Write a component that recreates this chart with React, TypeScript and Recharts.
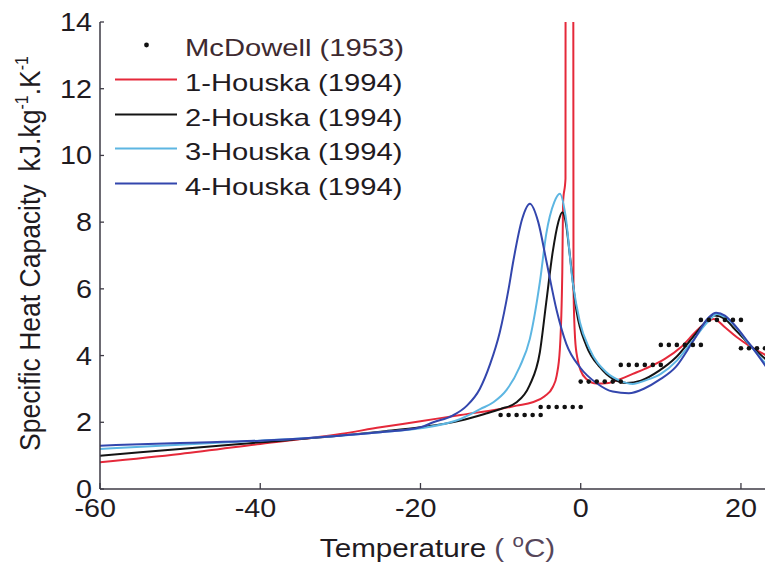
import React from "react";
import {
  ComposedChart,
  Line,
  Scatter,
  XAxis,
  YAxis,
  Legend,
} from "recharts";

// ---------- data ----------
const xTicks = [-60, -40, -20, 0, 20];
const yTicks = [0, 2, 4, 6, 8, 10, 12, 14];

const seriesNames = [
  "McDowell (1953)",
  "1-Houska (1994)",
  "2-Houska (1994)",
  "3-Houska (1994)",
  "4-Houska (1994)",
];
const seriesColors = ["#111111", "#e5293a", "#141414", "#5db6e2", "#3346ad"];

const mcDowellX = [
  -10, -9, -8, -7, -6, -5,
  -5, -4, -3, -2, -1, 0,
  0, 1, 2, 3, 4, 5,
  5, 6, 7, 8, 9, 10,
  10, 11, 12, 13, 14, 15,
  15, 16, 17, 18, 19, 20,
  20, 21, 22, 23,
];
const mcDowellY = [
  2.22, 2.22, 2.22, 2.22, 2.22, 2.22,
  2.46, 2.46, 2.46, 2.46, 2.46, 2.46,
  3.22, 3.22, 3.22, 3.22, 3.22, 3.22,
  3.72, 3.72, 3.72, 3.72, 3.72, 3.72,
  4.32, 4.32, 4.32, 4.32, 4.32, 4.32,
  5.07, 5.07, 5.07, 5.07, 5.07, 5.07,
  4.22, 4.22, 4.22, 4.22,
];

const houska1X = [-60, -50, -40, -30, -25, -20, -15, -10, -8, -6, -4.5, -3.5, -3, -2.6, -2.3, -2.2, -1.9, -1.85, -1.0, -0.9, -0.7, -0.4, 0, 0.7, 2, 3.5, 5, 6.5, 8, 10.5, 12.5, 14.5, 16, 16.6, 18, 19.5, 21, 24];
const houska1Y = [0.8, 1.05, 1.35, 1.65, 1.85, 2.03, 2.22, 2.4, 2.5, 2.6, 2.78, 3.05, 3.4, 4.2, 6.5, 8.6, 9.3, 40, 40, 6.0, 4.5, 3.9, 3.55, 3.3, 3.16, 3.18, 3.3, 3.45, 3.6, 3.9, 4.25, 4.75, 5.05, 5.1, 4.85, 4.55, 4.3, 3.9];

const houska2X = [-60, -50, -40, -30, -25, -20, -15, -12, -10, -8, -6.4, -5.1, -4.3, -3.5, -2.8, -2.3, -1.8, -1.4, -0.5, 0.7, 2.4, 4, 5.7, 7.5, 9.8, 11.9, 14, 16, 16.7, 18, 19, 21, 24];
const houska2Y = [1.0, 1.2, 1.4, 1.6, 1.72, 1.85, 2.05, 2.25, 2.4, 2.6, 3.1, 4.1, 5.6, 7.1, 8.0, 8.3, 7.9, 7.1, 5.3, 4.3, 3.65, 3.3, 3.18, 3.25, 3.55, 3.95, 4.55, 5.1, 5.2, 5.1, 4.85, 4.35, 3.7];

const houska3X = [-60, -50, -40, -30, -25, -20, -15, -12.5, -10.9, -9.25, -7.6, -6.35, -5.1, -4.3, -3.3, -2.6, -1.9, -1, -0.1, 1.1, 3.2, 4.9, 6.5, 8, 10, 12, 14, 16, 17, 18, 19, 21, 24];
const houska3Y = [1.2, 1.33, 1.45, 1.6, 1.7, 1.82, 2.1, 2.4, 2.6, 2.97, 3.67, 4.5, 6.2, 7.65, 8.6, 8.85, 8.2, 6.2, 5.0, 4.2, 3.5, 3.25, 3.15, 3.25, 3.45, 3.85, 4.45, 5.05, 5.25, 5.15, 4.95, 4.35, 3.5];

const houska4X = [-60, -50, -40, -30, -25, -20, -18.4, -16, -14.2, -12.6, -11.3, -10.1, -9, -8.4, -7.3, -6.35, -5.3, -4.3, -3, -1.8, -0.1, 2, 4, 6, 8, 9.8, 11.9, 14, 16, 16.9, 18, 19, 21, 24];
const houska4Y = [1.3, 1.38, 1.45, 1.6, 1.7, 1.85, 2.0, 2.2, 2.5, 3.0, 3.75, 4.7, 6.0, 6.85, 8.1, 8.55, 8.0, 6.85, 5.35, 4.35, 3.65, 3.17, 2.92, 2.87, 3.02, 3.27, 3.67, 4.42, 5.15, 5.28, 5.2, 4.97, 4.37, 3.37];

const toPoints = (xs: number[], ys: number[]) => xs.map((x, i) => ({ x, y: ys[i] }));

const mcDowell = toPoints(mcDowellX, mcDowellY);
const curves = [
  toPoints(houska1X, houska1Y),
  toPoints(houska2X, houska2Y),
  toPoints(houska3X, houska3Y),
  toPoints(houska4X, houska4Y),
];

// ---------- styling ----------
const FONT = "'Liberation Sans', Arial, Helvetica, sans-serif";
const TEXT = "#1f1b1f";
const AXIS = "#3d3a44";
const STRETCH = 1.15;
const TICK_FS = 25;

const XTick = (props: any) => {
  const { x, y, payload } = props;
  const v: number = payload.value;
  const digits = String(Math.abs(v));
  const half = (digits.length * 0.556 * TICK_FS) / 2;
  return (
    <g>
      <line x1={x} x2={x} y1={y} y2={y - 6} stroke={AXIS} strokeWidth={1.3} />
      <g transform={`translate(${x},${y + 28}) scale(${STRETCH},1)`}>
        <text x={0} y={0} textAnchor="middle" fontFamily={FONT} fontSize={TICK_FS} fill={TEXT}>
          {digits}
        </text>
        {v < 0 && (
          <text x={-half} y={0} textAnchor="end" fontFamily={FONT} fontSize={TICK_FS} fill={TEXT}>
            -
          </text>
        )}
      </g>
    </g>
  );
};

const TopTick = (props: any) => {
  const { x, y } = props;
  return <line x1={x} x2={x} y1={y} y2={y + 5} stroke={AXIS} strokeWidth={1.3} />;
};

const YTick = (props: any) => {
  const { x, y, payload } = props;
  return (
    <g>
      <line x1={x} x2={x + 4} y1={y} y2={y} stroke={AXIS} strokeWidth={1.3} />
      <g transform={`translate(${x - 8},${y + 9}) scale(${STRETCH},1)`}>
        <text x={0} y={0} textAnchor="end" fontFamily={FONT} fontSize={TICK_FS} fill={TEXT}>
          {payload.value}
        </text>
      </g>
    </g>
  );
};

const XTitle = (props: any) => {
  const vb = props.viewBox;
  const cx = vb.x + vb.width / 2 + 1;
  const y = vb.y + 68;
  return (
    <g transform={`translate(${cx},${y}) scale(1.14,1)`}>
      <text x={0} y={0} textAnchor="middle" fontFamily={FONT} fontSize={26} fill={TEXT}>
        Temperature
        <tspan fill="#56465a"> ( </tspan>
        <tspan fill="#56465a" dy={-10} fontSize={18}>o</tspan>
        <tspan fill="#56465a" dy={10}>C)</tspan>
      </text>
    </g>
  );
};

const YTitle = (props: any) => {
  const vb = props.viewBox;
  const bx = 32;
  const cy = vb.y + vb.height / 2 - 2;
  return (
    <g transform={`translate(${bx},${cy}) scale(1.12,1) rotate(-90)`}>
      <text x={0} y={0} textAnchor="middle" fontFamily={FONT} fontSize={26.5} fill={TEXT}>
        Specific Heat Capacity
        <tspan dx={13}>kJ.kg</tspan>
        <tspan dy={-11} fontSize={16}>-1</tspan>
        <tspan dy={11}>.K</tspan>
        <tspan dy={-11} fontSize={16}>-1</tspan>
      </text>
    </g>
  );
};

const LegendBox = () => {
  const rowY = [37, 71.5, 106.5, 140.5, 175.5];
  return (
    <svg width={440} height={200} style={{ display: "block" }}>
      {seriesNames.map((name, i) => (
        <g key={name}>
          {i === 0 ? (
            <circle cx={138.5} cy={rowY[i]} r={2.4} fill={seriesColors[0]} />
          ) : (
            <line x1={107} x2={169} y1={rowY[i]} y2={rowY[i]} stroke={seriesColors[i]} strokeWidth={2.2} />
          )}
          <g transform={`translate(177,${rowY[i] + 11}) scale(1.27,1)`}>
            <text x={0} y={0} fontFamily={FONT} fontSize={23} fill={i === 0 ? "#3e2a30" : TEXT}>
              {name}
            </text>
          </g>
        </g>
      ))}
    </svg>
  );
};

const Dot = (props: any) => <circle cx={props.cx} cy={props.cy} r={2.3} fill="#111" />;

export default function App() {
  return (
    <div style={{ width: 765, height: 555 }}>
      <ComposedChart width={765} height={555} margin={{ top: 14, right: 0, bottom: 0, left: 0 }}>
        <XAxis
          xAxisId="bottom"
          dataKey="x"
          type="number"
          domain={[-60, 24]}
          ticks={xTicks}
          allowDataOverflow
          height={74}
          tickSize={0}
          tickMargin={0}
          tickLine={false}
          tick={<XTick />}
          stroke={AXIS}
          strokeWidth={1.5}
          label={{ content: <XTitle /> }}
        />
        <XAxis
          xAxisId="top"
          orientation="top"
          dataKey="x"
          type="number"
          domain={[-60, 24]}
          ticks={xTicks}
          allowDataOverflow
          height={0}
          tickSize={0}
          tickMargin={0}
          tickLine={false}
          tick={<TopTick />}
          stroke={AXIS}
          strokeWidth={1.5}
        />
        <YAxis
          type="number"
          domain={[0, 14]}
          ticks={yTicks}
          allowDataOverflow
          width={92}
          tickSize={0}
          tickMargin={0}
          tickLine={false}
          tick={<YTick />}
          stroke={AXIS}
          strokeWidth={1.5}
          label={{ content: <YTitle /> }}
        />
        <Legend
          layout="vertical"
          align="center"
          verticalAlign="middle"
          content={() => <LegendBox />}
          wrapperStyle={{ position: "absolute", left: 0, top: 0, width: 440, height: 200 }}
        />
        {curves.map((data, i) => (
          <Line
            key={seriesNames[i + 1]}
            xAxisId="bottom"
            data={data}
            dataKey="y"
            type="monotone"
            stroke={seriesColors[i + 1]}
            strokeWidth={2}
            dot={false}
            isAnimationActive={false}
            name={seriesNames[i + 1]}
          />
        ))}
        <Scatter
          xAxisId="bottom"
          data={mcDowell}
          dataKey="y"
          shape={<Dot />}
          isAnimationActive={false}
          name={seriesNames[0]}
        />
      </ComposedChart>
    </div>
  );
}
